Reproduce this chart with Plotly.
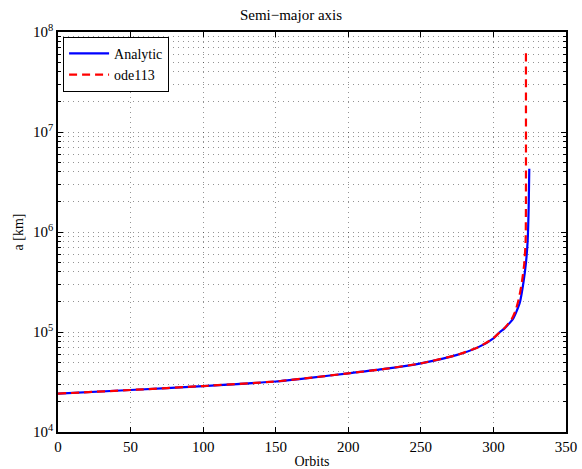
import plotly.graph_objects as go

orbits_analytic = [0, 50, 100, 150, 175, 200, 225, 250, 275, 290, 300, 304.5, 307.5, 310,
                   312, 313.7, 316, 318.3, 320.6, 322.4, 323.6, 324.3, 324.7]
a_analytic = [2.42e4, 2.63e4, 2.88e4, 3.2e4, 3.5e4, 3.86e4, 4.27e4, 4.86e4, 5.9e4,
              7.1e4, 8.65e4, 1.0e5, 1.08e5, 1.18e5, 1.27e5, 1.37e5, 1.62e5, 2.0e5,
              3.07e5, 4.9e5, 8.3e5, 1.8e6, 4.3e6]

orbits_ode = [0, 50, 100, 150, 175, 200, 225, 250, 275, 290, 300, 304.5, 307.5, 310,
              312.5, 315, 317.5, 319.5, 321.3, 322.2, 322.4, 322.4]
a_ode = [2.42e4, 2.63e4, 2.88e4, 3.2e4, 3.5e4, 3.86e4, 4.27e4, 4.86e4, 5.9e4,
         7.1e4, 8.65e4, 1.0e5, 1.09e5, 1.2e5, 1.34e5, 1.6e5, 2.15e5, 3.07e5, 4.9e5,
         8.3e5, 2.0e6, 6.3e7]

x_ticks = [0, 50, 100, 150, 200, 250, 300, 350]
y_ticks = [1e4, 1e5, 1e6, 1e7, 1e8]
y_ticklabels = ["10<sup>4</sup>", "10<sup>5</sup>", "10<sup>6</sup>", "10<sup>7</sup>", "10<sup>8</sup>"]
y_minor = [k * 10 ** n for n in range(4, 8) for k in range(2, 10)]

FONT = "Liberation Serif"
GRID = "rgba(0,0,0,0.42)"
DOTS = "1px,4px"

fig = go.Figure()
fig.add_trace(go.Scatter(x=orbits_analytic, y=a_analytic, mode="lines", name="Analytic",
                         line=dict(color="#0000ff", width=2.2, shape="spline", smoothing=0.6)))
fig.add_trace(go.Scatter(x=orbits_ode, y=a_ode, mode="lines", name="ode113",
                         line=dict(color="#ff0000", width=2.2, dash="8px,5px",
                                   shape="spline", smoothing=0.5)))

fig.update_layout(
    width=582, height=469,
    margin=dict(l=58, r=16, t=32, b=37),
    paper_bgcolor="white", plot_bgcolor="white",
    font=dict(family=FONT, size=13, color="black"),
    title=dict(text="Semi\u2212major axis", x=0.5, xanchor="center", y=0.968, yanchor="middle",
               font=dict(family=FONT, size=15)),
    showlegend=True,
    legend=dict(x=0.01, y=0.988, xanchor="left", yanchor="top", bgcolor="white",
                bordercolor="black", borderwidth=1, font=dict(family=FONT, size=14),
                tracegroupgap=0, itemwidth=40),
)
fig.update_xaxes(
    range=[0, 350], tickvals=x_ticks, ticks="inside", ticklen=5, tickcolor="black",
    showline=True, linecolor="black", linewidth=1.5, mirror="allticks",
    showgrid=True, gridcolor=GRID, griddash=DOTS, gridwidth=1, automargin=False,
    zeroline=False, title=dict(text="Orbits", standoff=2, font=dict(family=FONT, size=14)),
    tickfont=dict(family=FONT, size=15),
)
fig.update_yaxes(
    type="log", range=[4, 8], tickvals=y_ticks, ticktext=y_ticklabels,
    ticks="inside", ticklen=5, tickcolor="black",
    showline=True, linecolor="black", linewidth=1.5, mirror="allticks",
    showgrid=True, gridcolor=GRID, griddash=DOTS, gridwidth=1, automargin=False,
    minor=dict(tickvals=y_minor, ticks="inside", ticklen=3, tickcolor="black",
               showgrid=True, gridcolor=GRID, griddash=DOTS, gridwidth=1),
    zeroline=False, title=dict(text="a [km]", standoff=6, font=dict(family=FONT, size=14)),
    tickfont=dict(family=FONT, size=15),
)

fig.write_html("out.html", config={"displayModeBar": False},
               post_script="document.body.style.margin='0';document.body.style.padding='0';")
